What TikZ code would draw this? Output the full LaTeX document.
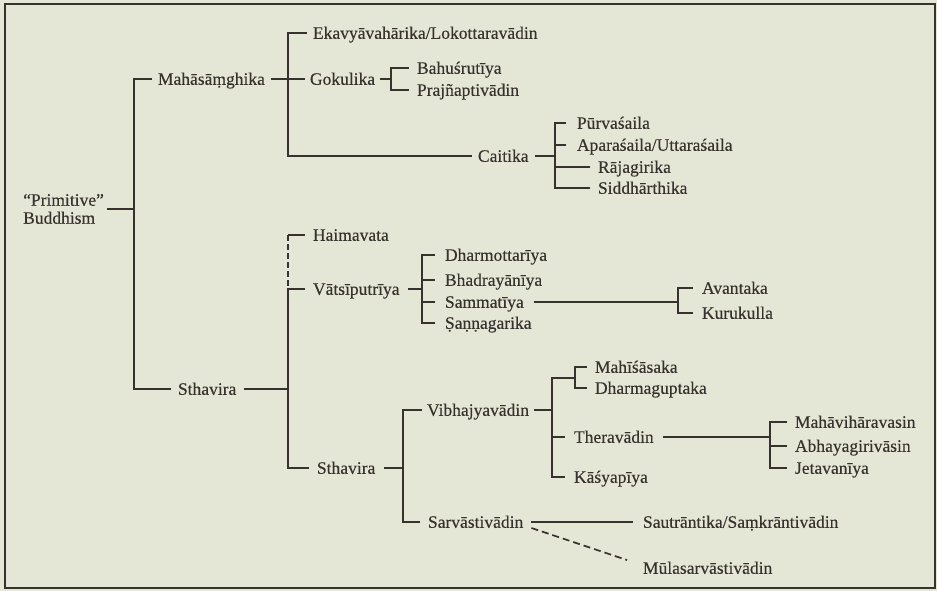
\documentclass[tikz,border=0pt]{standalone}
\usepackage{fontspec}
\setmainfont{Liberation Serif}[FakeBold=0.3]
\definecolor{bg}{RGB}{229,231,214}
\definecolor{ink}{RGB}{55,50,46}
\begin{document}
\begin{tikzpicture}[x=1pt,y=-1pt,
  lbl/.style={inner xsep=#1, inner ysep=0pt, text height=11.6pt, text depth=0pt, anchor=text, font=\fontsize{17.5}{18}\selectfont, text=ink},
  lbl/.default=6pt,
  ln/.style={draw=ink, line width=1.7pt},
  dsh/.style={dash pattern=on 6pt off 3pt}]
\fill[bg] (0,0) rectangle (937,591);
\useasboundingbox (0,0) rectangle (937,591);
\draw[ink, line width=1.4pt] (5,4) rectangle (935,588);

% nodes
\node[align=left, inner xsep=3pt, inner ysep=0pt, anchor=west, font=\fontsize{17.5}{18}\selectfont, text=ink] (prim) at (20,209) {“Primitive”\\Buddhism};
\node[lbl=6pt] (mahas) at (158,84.8) {Mahāsāṃghika};
\node[lbl=7pt] (sthA) at (178,394.8) {Sthavira};
\node[lbl] (eka) at (313,38.8) {Ekavyāvahārika/Lokottaravādin};
\node[lbl=5pt] (goku) at (310,84.8) {Gokulika};
\node[lbl=8pt] (bahu) at (417,73.8) {Bahuśrutīya};
\node[lbl=8pt] (praj) at (417,95.8) {Prajñaptivādin};
\node[lbl] (cait) at (478,161.8) {Caitika};
\node[lbl=11pt] (purv) at (577,128.8) {Pūrvaśaila};
\node[lbl=11pt] (apar) at (577,150.8) {Aparaśaila/Uttaraśaila};
\node[lbl=8pt] (raja) at (598,172.8) {Rājagirika};
\node[lbl=8pt] (sidd) at (598,193.8) {Siddhārthika};
\node[lbl=8pt] (haim) at (313,240.8) {Haimavata};
\node[lbl=8pt] (vats) at (313,294.8) {Vātsīputrīya};
\node[lbl=10pt] (dhar) at (445,260.8) {Dharmottarīya};
\node[lbl=10pt] (bhad) at (445,285.8) {Bhadrayānīya};
\node[lbl=10pt] (samm) at (445,307.8) {Sammatīya};
\node[lbl=10pt] (sann) at (445,328.8) {Ṣaṇṇagarika};
\node[lbl=9pt] (avan) at (702,293.8) {Avantaka};
\node[lbl=9pt] (kuru) at (702,318.8) {Kurukulla};
\node[lbl=8pt] (sthB) at (317,473.8) {Sthavira};
\node[lbl=5pt] (vibh) at (427,415.8) {Vibhajyavādin};
\node[lbl=8pt] (mahi) at (595,372.8) {Mahīśāsaka};
\node[lbl=8pt] (dhgu) at (595,393.8) {Dharmaguptaka};
\node[lbl=9pt] (ther) at (574,442.8) {Theravādin};
\node[lbl=9pt] (kasy) at (574,482.8) {Kāśyapīya};
\node[lbl=8pt] (mvih) at (795,427.8) {Mahāvihāravasin};
\node[lbl=8pt] (abha) at (795,451.8) {Abhayagirivāsin};
\node[lbl=8pt] (jeta) at (795,473.8) {Jetavanīya};
\node[lbl=8pt] (sarv) at (428,527.8) {Sarvāstivādin};
\node[lbl=10pt] (saut) at (643,527.8) {Sautrāntika/Saṃkrāntivādin};
\node[lbl=10pt] (mula) at (643,573.8) {Mūlasarvāstivādin};

% junctions
\coordinate (r) at (134,209);
\coordinate (m) at (288,79);
\coordinate (g) at (391,79);
\coordinate (c) at (555,156);
\coordinate (s) at (288,389);
\coordinate (v) at (422,289);
\coordinate (a) at (678,302);
\coordinate (t) at (403,468);
\coordinate (b) at (552,410);
\coordinate (mb) at (575,378);
\coordinate (h) at (770,437);

% connectors
\draw[ln] (prim.east) -- (r);
\draw[ln] (mahas.west) -| (r) |- (sthA.west);
\draw[ln] (mahas.east) -- (goku.west);
\draw[ln] (eka.west) -| (m) |- (cait.west);
\draw[ln] (goku.east) -- (g);
\draw[ln] (bahu.west) -| (g) |- (praj.west);
\draw[ln] (cait.east) -- (c);
\draw[ln] (purv.west) -| (c) |- (sidd.west);
\draw[ln] (c |- apar.west) -- (apar.west);
\draw[ln] (c |- raja.west) -- (raja.west);
\draw[ln] (sthA.east) -- (s);
\draw[ln] (haim.west) -- (s |- haim.west);
\draw[ln, dsh] (s |- haim.west) -- (s |- vats.west);
\draw[ln] (vats.west) -| (s) |- (sthB.west);
\draw[ln] (vats.east) -- (v);
\draw[ln] (dhar.west) -| (v) |- (sann.west);
\draw[ln] (v |- bhad.west) -- (bhad.west);
\draw[ln] (v |- samm.west) -- (samm.west);
\draw[ln] (samm.east) -- (a);
\draw[ln] (avan.west) -| (a) |- (kuru.west);
\draw[ln] (sthB.east) -- (t);
\draw[ln] (vibh.west) -| (t) |- (sarv.west);
\draw[ln] (vibh.east) -- (b);
\draw[ln] (b) |- (mb);
\draw[ln] (mahi.west) -| (mb) |- (dhgu.west);
\draw[ln] (b) |- (kasy.west);
\draw[ln] (b |- ther.west) -- (ther.west);
\draw[ln] (ther.east) -- (h);
\draw[ln] (mvih.west) -| (h) |- (jeta.west);
\draw[ln] (h |- abha.west) -- (abha.west);
\draw[ln] (sarv.east) -- (saut.west);
\draw[ln, dash pattern=on 7pt off 4pt, shorten >=6pt] (sarv.south east) -- (mula.north west);
\end{tikzpicture}
\end{document}
